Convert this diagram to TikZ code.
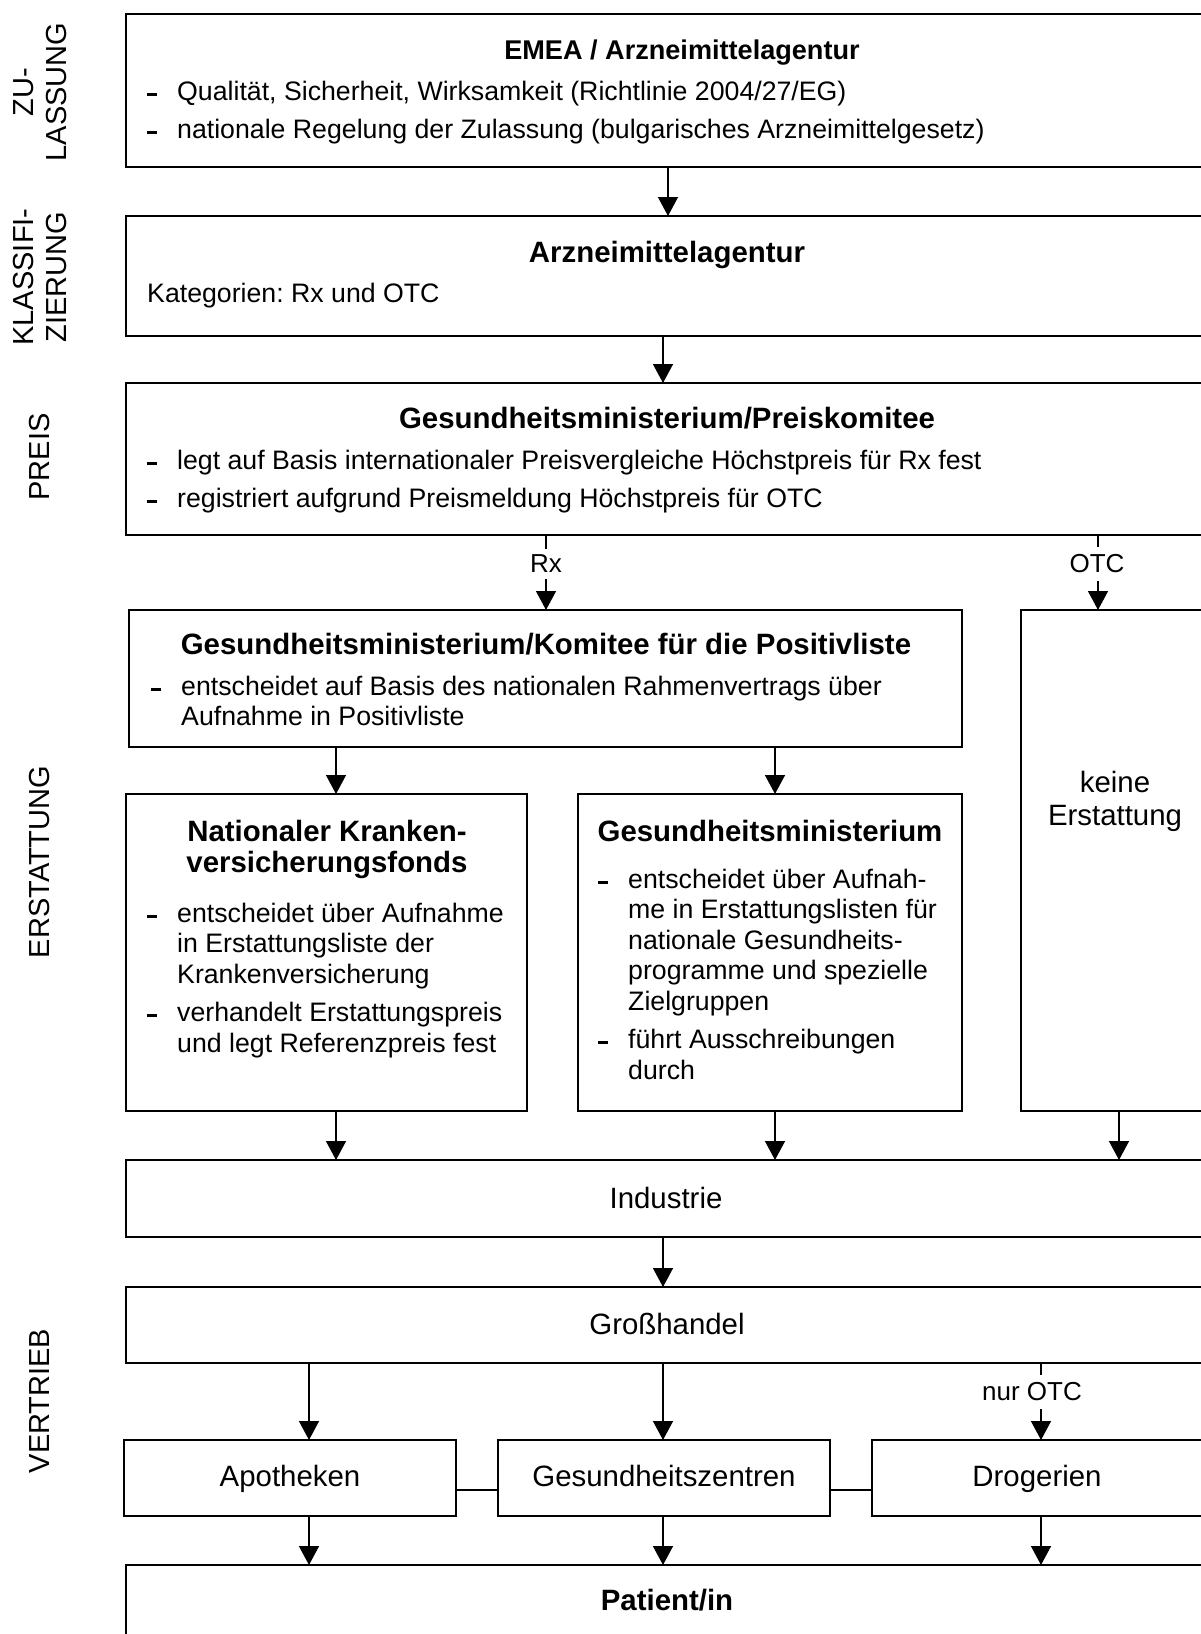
\documentclass[tikz,border=0pt]{standalone}
\usepackage{fontspec}
\setmainfont{Liberation Sans}
\usetikzlibrary{arrows.meta}
\frenchspacing
\newcommand\bdash{\rule[4.5pt]{10pt}{3pt}}
\begin{document}
\begin{tikzpicture}[x=1pt,y=-1pt,
  box/.style={draw, line width=1.8pt, rectangle, inner sep=0pt, outer sep=0pt, anchor=north west},
  arr/.style={line width=1.4pt, -{Triangle[width=20pt,length=19pt]}},
  link/.style={line width=1.4pt},
  body/.style={inner sep=0pt, font=\fontsize{26.7}{30.5}\selectfont},
  one/.style={inner sep=0pt, font=\fontsize{29.4}{33}\selectfont},
  ttl/.style={inner sep=0pt, font=\fontsize{29.4}{31}\selectfont\bfseries},
  lab/.style={inner xsep=3pt, inner ysep=0pt, fill=white, font=\fontsize{26}{28}\selectfont},
  side/.style={inner sep=0pt, rotate=90, font=\fontsize{29}{33}\selectfont, align=center},
]
\useasboundingbox (0,0) rectangle (1201,1634);
\fill[white] (0,0) rectangle (1201,1634);
\clip (0,0) rectangle (1201,1634);

% column coordinates
\coordinate (c1) at (668,0);
\coordinate (c2) at (663,0);
\coordinate (cRx) at (546,0);
\coordinate (cOTC) at (1098,0);
\coordinate (c3) at (336,0);
\coordinate (c4) at (775,0);
\coordinate (c5) at (1119,0);
\coordinate (c6) at (309,0);
\coordinate (c7) at (1041,0);
\coordinate (yl) at (0,1490);

% side labels
\node[side] (s1) at (40,92) {ZU-\\LASSUNG};
\node[side] (s2) at (40,277) {KLASSIFI-\\ZIERUNG};
\node[side] (s3) at (40,457) {PREIS};
\node[side] (s4) at (40,862) {ERSTATTUNG};
\node[side] (s5) at (40,1401) {VERTRIEB};

% boxes
\node[box, minimum width=1100pt, minimum height=153pt] (b1) at (126,14) {};
\node[box, minimum width=1100pt, minimum height=120pt] (b2) at (126,216) {};
\node[box, minimum width=1100pt, minimum height=152pt] (b3) at (126,383) {};
\node[box, minimum width=833pt, minimum height=137pt] (b4) at (129,610) {};
\node[box, minimum width=219pt, minimum height=501pt] (bk) at (1021,610) {};
\node[box, minimum width=401pt, minimum height=317pt] (b5) at (126,794) {};
\node[box, minimum width=384pt, minimum height=317pt] (b6) at (578,794) {};
\node[box, minimum width=1100pt, minimum height=77pt] (bi) at (126,1160) {};
\node[box, minimum width=1100pt, minimum height=76pt] (bg) at (126,1287) {};
\node[box, minimum width=332pt, minimum height=76pt] (ba) at (124,1440) {};
\node[box, minimum width=332pt, minimum height=76pt] (bz) at (498,1440) {};
\node[box, minimum width=354pt, minimum height=76pt] (bd) at (872,1440) {};
\node[box, minimum width=1100pt, minimum height=100pt] (bp) at (126,1565) {};

% texts
\node[ttl, anchor=base, font=\fontsize{27.1}{31}\selectfont\bfseries] (t1) at (682,59) {EMEA / Arzneimittelagentur};
\node[body, anchor=base west] (t1b) at (147,100) {\begin{tabular}[t]{@{}p{30pt}@{}l@{}}
\bdash & Qualität, Sicherheit, Wirksamkeit (Richtlinie 2004/27/EG)\\[8pt]
\bdash & nationale Regelung der Zulassung (bulgarisches Arzneimittelgesetz)
\end{tabular}};

\node[ttl, anchor=base] (t2) at (667,262) {Arzneimittelagentur};
\node[body, anchor=base west] (t2b) at (147,302) {Kategorien: Rx und OTC};

\node[ttl, anchor=base] (t3) at (667,428) {Gesundheitsministerium/Preiskomitee};
\node[body, anchor=base west] (t3b) at (147,469) {\begin{tabular}[t]{@{}p{30pt}@{}l@{}}
\bdash & legt auf Basis internationaler Preisvergleiche Höchstpreis für Rx fest\\[7.5pt]
\bdash & registriert aufgrund Preismeldung Höchstpreis für OTC
\end{tabular}};

\node[ttl, anchor=base] (t4) at (546,654) {Gesundheitsministerium/Komitee für die Positivliste};
\node[body, anchor=base west] (t4b) at (151,695) {\begin{tabular}[t]{@{}p{30pt}@{}l@{}}
\bdash & entscheidet auf Basis des nationalen Rahmenvertrags über\\
 & Aufnahme in Positivliste
\end{tabular}};

\node[one, anchor=base] (tk) at (1115,792) {\begin{tabular}[t]{@{}c@{}}keine\\Erstattung\end{tabular}};

\node[ttl, anchor=base] (t5) at (327,841) {\begin{tabular}[t]{@{}c@{}}Nationaler Kranken-\\versicherungsfonds\end{tabular}};
\node[body, anchor=base west] (t5b) at (147,922) {\begin{tabular}[t]{@{}p{30pt}@{}l@{}}
\bdash & entscheidet über Aufnahme\\
 & in Erstattungsliste der\\
 & Krankenversicherung\\[8pt]
\bdash & verhandelt Erstattungspreis\\
 & und legt Referenzpreis fest
\end{tabular}};

\node[ttl, anchor=base] (t6) at (770,841) {Gesundheitsministerium};
\node[body, anchor=base west] (t6b) at (598,888) {\begin{tabular}[t]{@{}p{30pt}@{}l@{}}
\bdash & entscheidet über Aufnah-\\
 & me in Erstattungslisten für\\
 & nationale Gesundheits-\\
 & programme und spezielle\\
 & Zielgruppen\\[8pt]
\bdash & führt Ausschreibungen\\
 & durch
\end{tabular}};

\node[one, anchor=base] (ti) at (666,1208) {Industrie};
\node[one, anchor=base] (tg) at (667,1334) {Großhandel};
\node[one, anchor=base] (ta) at (290,1486) {Apotheken};
\node[one, anchor=base] (tz) at (664,1486) {Gesundheitszentren};
\node[one, anchor=base] (td) at (1037,1486) {Drogerien};
\node[ttl, anchor=base] (tp) at (667,1610) {Patient/in};

% connectors
\draw[arr] (b1.south -| c1) -- (b2.north -| c1);
\draw[arr] (b2.south -| c2) -- (b3.north -| c2);
\draw[arr] (b3.south -| cRx) -- (b4.north -| cRx);
\draw[arr] (b3.south -| cOTC) -- (bk.north -| cOTC);
\node[lab, minimum height=30pt] (lRx) at (546,564) {Rx};
\node[lab, minimum height=34pt] (lOTC) at (1097,564) {OTC};
\draw[arr] (b4.south -| c3) -- (b5.north -| c3);
\draw[arr] (b4.south -| c4) -- (b6.north -| c4);
\draw[arr] (b5.south -| c3) -- (bi.north -| c3);
\draw[arr] (b6.south -| c4) -- (bi.north -| c4);
\draw[arr] (bk.south -| c5) -- (bi.north -| c5);
\draw[arr] (bi.south -| c2) -- (bg.north -| c2);
\draw[arr] (bg.south -| c6) -- (ba.north -| c6);
\draw[arr] (bg.south -| c2) -- (bz.north -| c2);
\draw[arr] (bg.south -| c7) -- (bd.north -| c7);
\node[lab, minimum height=34pt] (lnur) at (1032,1392) {nur OTC};
\draw[link] (ba.east |- yl) -- (bz.west |- yl);
\draw[link] (bz.east |- yl) -- (bd.west |- yl);
\draw[arr] (ba.south -| c6) -- (bp.north -| c6);
\draw[arr] (bz.south -| c2) -- (bp.north -| c2);
\draw[arr] (bd.south -| c7) -- (bp.north -| c7);
\end{tikzpicture}
\end{document}
